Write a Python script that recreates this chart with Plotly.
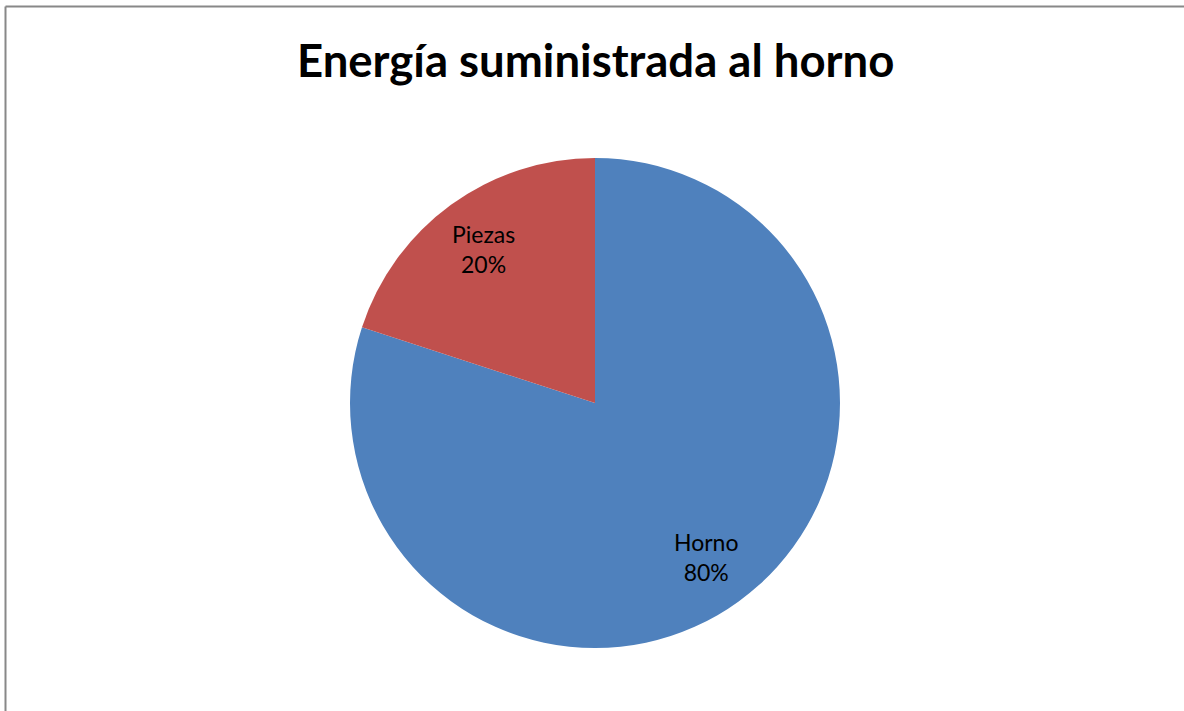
import math
import plotly.graph_objects as go

labels = ["Horno", "Piezas"]
values = [80, 20]
colors = ["#4F81BD", "#C0504D"]
title = "Energía suministrada al horno"

W, H = 1184, 711
cx, cy, r = 595, 403, 245
label_frac = 0.775
FONT = "Lato, 'Open Sans', sans-serif"

fig = go.Figure(go.Pie(
    labels=labels, values=values, sort=False, direction="clockwise", rotation=0,
    marker=dict(colors=colors, line=dict(width=0)),
    textinfo="none",
    domain=dict(x=[(cx - r) / W, (cx + r) / W], y=[1 - (cy + r) / H, 1 - (cy - r) / H]),
    showlegend=False, hoverinfo="label+percent",
))

# slice labels placed at the mid-angle of each slice (clockwise from 12 o'clock)
total = sum(values)
annotations = []
start = 0.0
for lab, v in zip(labels, values):
    mid = (start + v / 2) / total * 2 * math.pi
    start += v
    px = cx + label_frac * r * math.sin(mid)
    py = cy - label_frac * r * math.cos(mid)
    annotations.append(dict(
        text=f"{lab}<br>{round(100 * v / total)}%", x=px / W, y=1 - py / H,
        xref="paper", yref="paper", showarrow=False, xanchor="center", yanchor="middle",
        font=dict(family=FONT, size=23, color="#000000")))

annotations.append(dict(text="<b>" + title + "</b>", x=595 / W, y=1 - 59 / H,
                        xref="paper", yref="paper", showarrow=False,
                        xanchor="center", yanchor="middle",
                        font=dict(family=FONT, size=45.5, color="#000000")))

fig.update_layout(
    width=W, height=H,
    margin=dict(l=0, r=0, t=0, b=0),
    paper_bgcolor="white", plot_bgcolor="white",
    annotations=annotations,
    shapes=[
        dict(type="line", xref="paper", yref="paper", x0=5.5 / W, x1=1, y0=1 - 6.5 / H, y1=1 - 6.5 / H,
             line=dict(color="#888888", width=2)),
        dict(type="line", xref="paper", yref="paper", x0=5.5 / W, x1=5.5 / W, y0=0, y1=1 - 6.5 / H,
             line=dict(color="#888888", width=2)),
    ],
)

fig.write_html("out.html", config={"displayModeBar": False},
               post_script="document.body.style.margin='0';")
